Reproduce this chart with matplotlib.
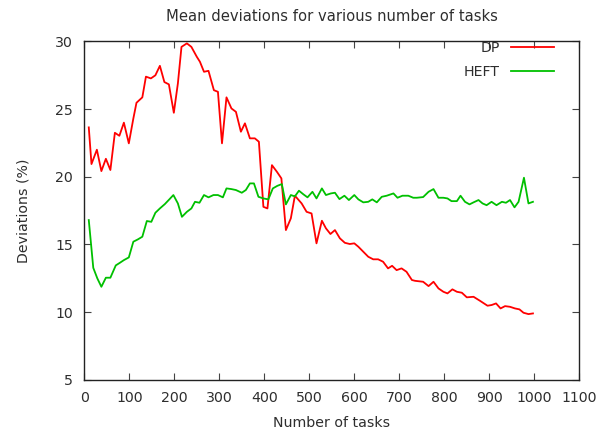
import matplotlib
matplotlib.use('Agg')
import matplotlib.pyplot as plt

# Valores
dp_tasks = [10, 16, 28, 38, 48, 58, 68, 78, 88, 99, 109, 116, 129, 137, 148, 158, 168,
            178, 188, 199, 208, 216, 228, 238, 250, 257, 266, 276, 288, 297, 306, 316,
            327, 337, 348, 357, 368, 379, 388, 398, 407, 417, 428, 438, 448, 459, 468,
            483, 494, 505, 516, 528, 537, 547, 557, 568, 579, 590, 600, 609, 620, 631,
            642, 653, 664, 675, 684, 694, 705, 716, 728, 735, 753, 765, 776, 787, 798,
            807, 818, 828, 839, 850, 865, 879, 896, 905, 915, 925, 935, 946, 957, 967,
            976, 987, 997]
dp_dev = [23.65, 20.94, 22.0, 20.42, 21.33, 20.5, 23.25, 23.03, 24.0, 22.47, 24.3, 25.47,
          25.87, 27.4, 27.27, 27.5, 28.2, 27.0, 26.83, 24.73, 26.9, 29.6, 29.86, 29.6,
          28.87, 28.5, 27.76, 27.83, 26.4, 26.28, 22.47, 25.87, 25.05, 24.8, 23.33, 23.95,
          22.84, 22.84, 22.59, 17.78, 17.66, 20.86, 20.37, 19.88, 16.06, 16.93, 18.6,
          18.03, 17.41, 17.29, 15.08, 16.75, 16.19, 15.77, 16.06, 15.45, 15.12, 15.03,
          15.08, 14.83, 14.46, 14.09, 13.9, 13.9, 13.72, 13.23, 13.42, 13.1, 13.23, 12.98,
          12.37, 12.31, 12.24, 11.92, 12.24, 11.75, 11.5, 11.38, 11.68, 11.5, 11.43,
          11.09, 11.13, 10.84, 10.47, 10.52, 10.64, 10.27, 10.44, 10.39, 10.27, 10.2,
          9.95, 9.85, 9.9]

heft_tasks = [10, 20, 29, 38, 48, 58, 70, 79, 88, 99, 109, 119, 129, 139, 149, 158, 168,
              179, 189, 198, 208, 217, 228, 238, 246, 256, 266, 276, 287, 297, 308, 316,
              327, 337, 350, 359, 368, 377, 387, 398, 409, 419, 429, 439, 448, 459, 468,
              477, 487, 496, 507, 516, 528, 537, 548, 557, 567, 578, 588, 600, 609, 620,
              631, 640, 650, 661, 672, 687, 696, 707, 720, 731, 739, 753, 765, 776, 787,
              798, 807, 816, 828, 836, 846, 856, 865, 876, 885, 894, 905, 916, 928, 937,
              946, 956, 965, 970, 977, 987, 997]
heft_dev = [16.8, 13.27, 12.49, 11.87, 12.54, 12.54, 13.45, 13.64, 13.84, 14.04, 15.2,
            15.37, 15.57, 16.73, 16.67, 17.34, 17.66, 17.98, 18.33, 18.65, 18.03, 17.04,
            17.41, 17.66, 18.15, 18.08, 18.65, 18.48, 18.65, 18.65, 18.48, 19.14, 19.09,
            19.02, 18.82, 19.02, 19.51, 19.51, 18.52, 18.4, 18.33, 19.14, 19.33, 19.46,
            17.96, 18.65, 18.55, 18.97, 18.7, 18.48, 18.89, 18.4, 19.14, 18.65, 18.77,
            18.82, 18.35, 18.6, 18.28, 18.65, 18.33, 18.11, 18.15, 18.33, 18.11, 18.52,
            18.6, 18.77, 18.45, 18.6, 18.6, 18.45, 18.45, 18.5, 18.89, 19.09, 18.45, 18.45,
            18.4, 18.2, 18.2, 18.6, 18.15, 17.96, 18.11, 18.28, 18.03, 17.9, 18.15, 17.9,
            18.15, 18.08, 18.28, 17.74, 18.15, 18.89, 19.93, 18.03, 18.15]

x_ticks = list(range(0, 1101, 100))
y_ticks = list(range(5, 31, 5))

text_color = '#2e2e2e'
plt.rcParams['font.family'] = ['DejaVu Sans']
plt.rcParams['font.size'] = 10.2

fig = plt.figure(figsize=(5.96, 4.32), dpi=100)
ax = fig.add_axes([0.1414, 0.121, 0.8306, 0.783])

ax.plot(dp_tasks, dp_dev, color='#ff0000', linewidth=1.3, label='DP')
ax.plot(heft_tasks, heft_dev, color='#00c000', linewidth=1.3, label='HEFT')

ax.set_xlim(0, 1100)
ax.set_ylim(5, 30)
ax.set_xticks(x_ticks)
ax.set_yticks(y_ticks)
ax.tick_params(direction='in', top=True, right=True, length=5, width=0.8,
               colors='#444444', labelcolor=text_color, pad=8)
for spine in ax.spines.values():
    spine.set_color('#222222')
    spine.set_linewidth(1.0)

ax.set_title('Mean deviations for various number of tasks', color=text_color,
             fontsize=10.6, pad=15)
ax.set_xlabel('Number of tasks', color=text_color, labelpad=8)
ax.set_ylabel('Deviations (%)', color=text_color, labelpad=18)

leg = ax.legend(loc='upper right', bbox_to_anchor=(0.96, 1.017), frameon=False,
                markerfirst=False, handlelength=3.0, handletextpad=0.8,
                labelspacing=0.65, borderaxespad=0.0)
for t in leg.get_texts():
    t.set_color(text_color)
    t.set_ha('right')

fig.savefig('out.png', dpi=100)
